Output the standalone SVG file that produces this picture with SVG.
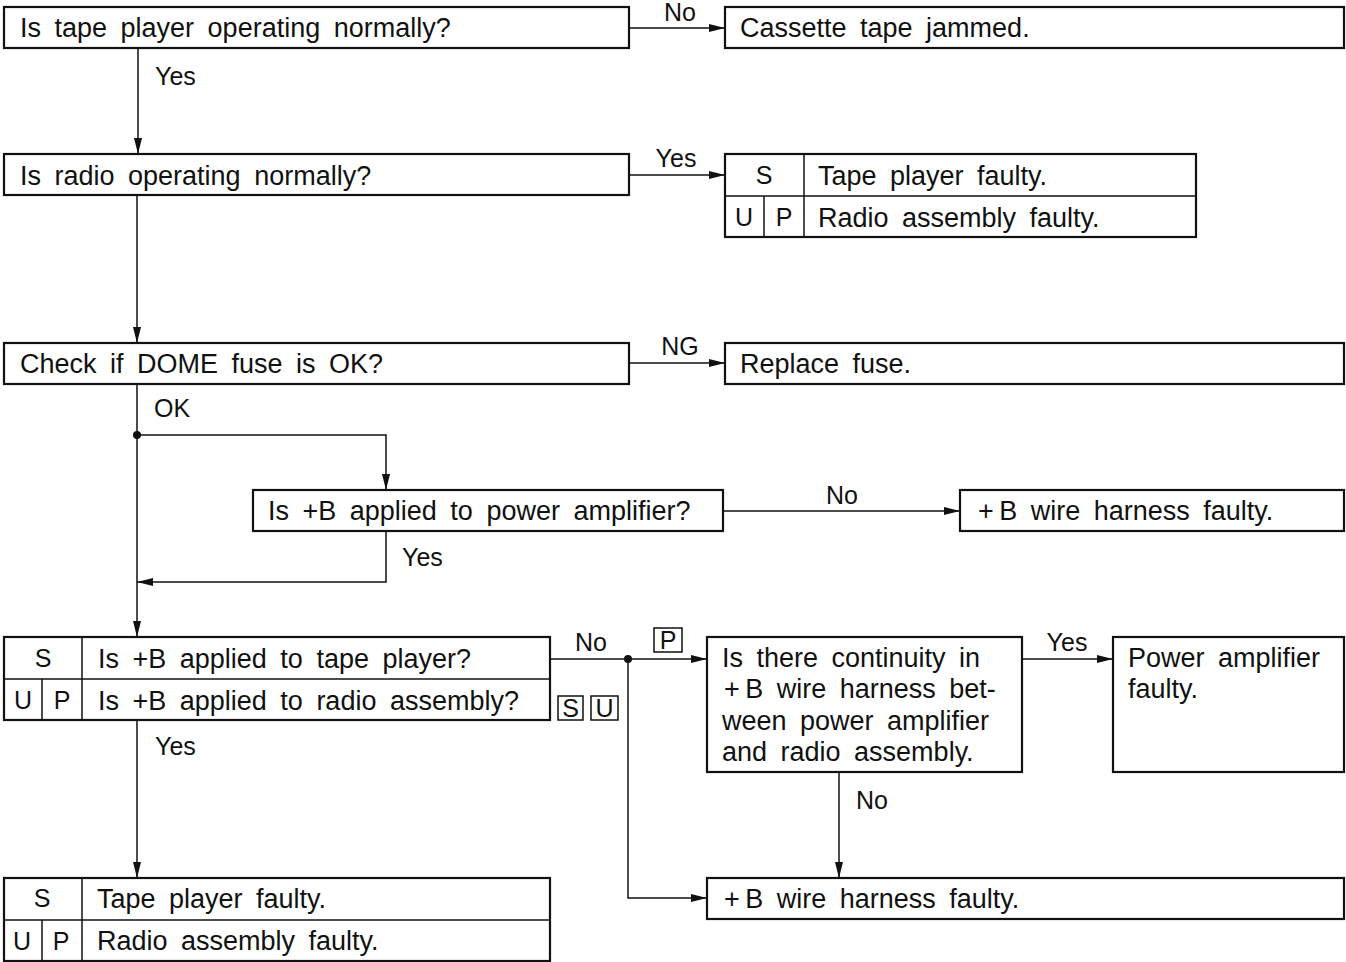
<svg xmlns="http://www.w3.org/2000/svg" width="1346" height="962" viewBox="0 0 1346 962">
<defs>
<marker id="arr" markerUnits="userSpaceOnUse" markerWidth="18" markerHeight="10" refX="16" refY="5" orient="auto">
<path d="M0,1 L16,5 L0,9 Z" fill="#111"/>
</marker>
<style>
.box{fill:#fff;stroke:#111;stroke-width:2.2}
.div{stroke:#111;stroke-width:1.5;fill:none}
.ln{stroke:#111;stroke-width:1.5;fill:none}
text{font-family:"Liberation Sans",Arial,sans-serif;font-size:27px;fill:#111;word-spacing:6px}
.lb{font-size:25px}
.c{text-anchor:middle}
.tag{fill:none;stroke:#111;stroke-width:1.5}
</style>
</defs>
<rect width="1346" height="962" fill="#fff"/>

<g id="connectors">
<line class="ln" x1="629" y1="28" x2="725" y2="28" marker-end="url(#arr)"/>
<line class="ln" x1="138" y1="48" x2="138" y2="154" marker-end="url(#arr)"/>
<line class="ln" x1="629" y1="175" x2="725" y2="175" marker-end="url(#arr)"/>
<line class="ln" x1="137" y1="195" x2="137" y2="343" marker-end="url(#arr)"/>
<line class="ln" x1="629" y1="363" x2="725" y2="363" marker-end="url(#arr)"/>
<line class="ln" x1="137" y1="384" x2="137" y2="637" marker-end="url(#arr)"/>
<circle cx="137" cy="435" r="4" fill="#111"/>
<polyline class="ln" points="137,435 386,435 386,490" marker-end="url(#arr)"/>
<line class="ln" x1="723" y1="511" x2="960" y2="511" marker-end="url(#arr)"/>
<polyline class="ln" points="386,531 386,582 137,582" marker-end="url(#arr)"/>
<line class="ln" x1="550" y1="659" x2="707" y2="659" marker-end="url(#arr)"/>
<circle cx="628" cy="659" r="4" fill="#111"/>
<polyline class="ln" points="628,659 628,898 707,898" marker-end="url(#arr)"/>
<line class="ln" x1="1022" y1="659" x2="1113" y2="659" marker-end="url(#arr)"/>
<line class="ln" x1="839" y1="772" x2="839" y2="878" marker-end="url(#arr)"/>
<line class="ln" x1="137" y1="720" x2="137" y2="878" marker-end="url(#arr)"/>
<text class="lb c" x="680" y="21">No</text>
<text class="lb" x="155" y="85">Yes</text>
<text class="lb c" x="676" y="167">Yes</text>
<text class="lb c" x="680" y="355">NG</text>
<text class="lb" x="154" y="417">OK</text>
<text class="lb c" x="842" y="504">No</text>
<text class="lb" x="402" y="566">Yes</text>
<text class="lb c" x="591" y="651">No</text>
<text class="lb c" x="1067" y="651">Yes</text>
<text class="lb" x="856" y="809">No</text>
<text class="lb" x="155" y="755">Yes</text>
<rect class="tag" x="654" y="628" width="28" height="24"/>
<text class="lb c" x="668" y="649">P</text>
<rect class="tag" x="558" y="696" width="25" height="24"/>
<text class="lb c" x="570.5" y="717">S</text>
<rect class="tag" x="591" y="696" width="27" height="24"/>
<text class="lb c" x="604.5" y="717">U</text>
</g>

<g id="n1">
<rect class="box" x="4" y="7" width="625" height="41"/>
<text x="20" y="37">Is tape player operating normally?</text>
</g>
<g id="n1no">
<rect class="box" x="725" y="7" width="619" height="41"/>
<text x="740" y="37">Cassette tape jammed.</text>
</g>
<g id="n2">
<rect class="box" x="4" y="154" width="625" height="41"/>
<text x="20" y="185">Is radio operating normally?</text>
</g>
<g id="n2yes">
<rect class="box" x="725" y="154" width="471" height="83"/>
<line class="div" x1="725" y1="196" x2="1196" y2="196"/>
<line class="div" x1="804" y1="154" x2="804" y2="237"/>
<line class="div" x1="764" y1="196" x2="764" y2="237"/>
<text class="lb c" x="764" y="184">S</text>
<text class="lb c" x="744" y="226">U</text>
<text class="lb c" x="784" y="226">P</text>
<text x="818" y="185">Tape player faulty.</text>
<text x="818" y="227">Radio assembly faulty.</text>
</g>
<g id="n3">
<rect class="box" x="4" y="343" width="625" height="41"/>
<text x="20" y="373">Check if DOME fuse is OK?</text>
</g>
<g id="n3ng">
<rect class="box" x="725" y="343" width="619" height="41"/>
<text x="740" y="373">Replace fuse.</text>
</g>
<g id="n4">
<rect class="box" x="253" y="490" width="470" height="41"/>
<text x="268" y="520">Is +B applied to power amplifier?</text>
</g>
<g id="n4no">
<rect class="box" x="960" y="490" width="384" height="41"/>
<text x="978" y="520">+&#x2009;B wire harness faulty.</text>
</g>
<g id="n5">
<rect class="box" x="4" y="637" width="546" height="83"/>
<line class="div" x1="4" y1="679" x2="550" y2="679"/>
<line class="div" x1="82" y1="637" x2="82" y2="720"/>
<line class="div" x1="42" y1="679" x2="42" y2="720"/>
<text class="lb c" x="43" y="667">S</text>
<text class="lb c" x="23" y="709">U</text>
<text class="lb c" x="62" y="709">P</text>
<text x="98" y="668">Is +B applied to tape player?</text>
<text x="98" y="710">Is +B applied to radio assembly?</text>
</g>
<g id="n6">
<rect class="box" x="707" y="637" width="315" height="135"/>
<text x="722" y="667">Is there continuity in</text>
<text x="724" y="698">+&#x2009;B wire harness bet-</text>
<text x="722" y="730">ween power amplifier</text>
<text x="722" y="761">and radio assembly.</text>
</g>
<g id="n6yes">
<rect class="box" x="1113" y="637" width="231" height="135"/>
<text x="1128" y="667">Power amplifier</text>
<text x="1128" y="698">faulty.</text>
</g>
<g id="n6no">
<rect class="box" x="707" y="878" width="637" height="41"/>
<text x="724" y="908">+&#x2009;B wire harness faulty.</text>
</g>
<g id="n5yes">
<rect class="box" x="4" y="878" width="546" height="83"/>
<line class="div" x1="4" y1="920" x2="550" y2="920"/>
<line class="div" x1="82" y1="878" x2="82" y2="961"/>
<line class="div" x1="42" y1="920" x2="42" y2="961"/>
<text class="lb c" x="42" y="907">S</text>
<text class="lb c" x="22" y="950">U</text>
<text class="lb c" x="61" y="950">P</text>
<text x="97" y="908">Tape player faulty.</text>
<text x="97" y="950">Radio assembly faulty.</text>
</g>
</svg>
